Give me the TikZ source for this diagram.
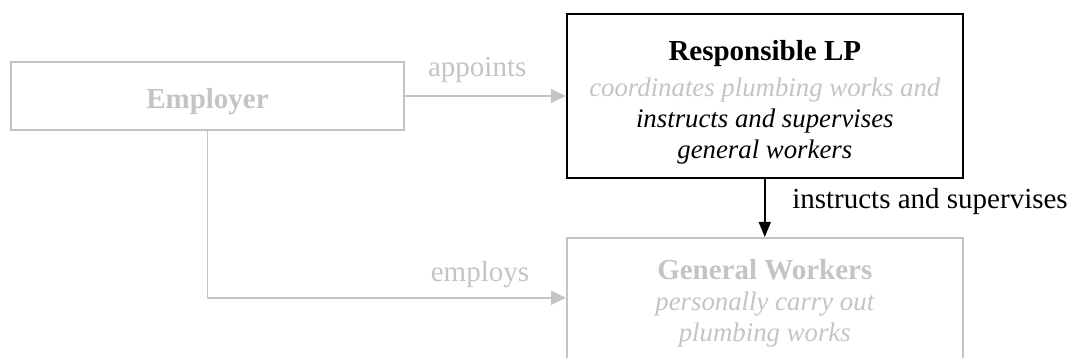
\documentclass[tikz,border=0pt]{standalone}
\usepackage{fontspec}
\setmainfont{Liberation Serif}
\usetikzlibrary{arrows.meta, positioning}
\definecolor{faded}{RGB}{196,196,196}
\newcommand\remark[1]{{\fontsize{13.4}{15.5}\selectfont\itshape #1}}

\begin{document}
\begin{tikzpicture}[
        x=0.5pt, y=0.5pt,
        font=\fontsize{14.5}{15.5}\selectfont,
        party/.style={
            rectangle, draw=faded, line width=0.8pt, text=faded,
            align=center, inner sep=0pt
        },
        focus/.style={
            rectangle, draw=black, line width=1pt,
            align=center, inner sep=0pt
        },
        link/.style={-{Triangle[length=7.5pt, width=7pt]}, line width=0.8pt, draw=faded, text=faded},
        duty/.style={-{Triangle[length=7.5pt, width=6pt]}, line width=0.8pt}
    ]
        \useasboundingbox (0,0) rectangle (1074,358);

        % Employer
        \node[party, minimum width=196.5pt, minimum height=34pt] (emp) at (207.5,262) {\rule{0pt}{15.5pt}\textbf{Employer}};

        % Responsible LP
        \node[focus, minimum width=198pt, minimum height=82pt, right=80.5pt of emp] (lp) {%
            \rule{0pt}{16pt}\textbf{Responsible LP}\\[2.5pt]
            \textcolor{faded}{\remark{coordinates plumbing works and}}\\
            \remark{instructs and supervises}\\
            \remark{general workers}};

        % General workers
        \node[party, minimum width=198pt, minimum height=65pt, below=29pt of lp] (gw) {%
            \textbf{General Workers}\\
            \remark{personally carry out}\\
            \remark{plumbing works}};

        % Relations
        \draw[link] (emp) -- (lp) node[pos=0.45, above=3pt] {appoints};
        \draw[link] (emp) |- ([yshift=2.5pt]gw.west) node[pos=0.88, above=1.5pt] {employs};
        \draw[duty] (lp) -- (gw) node[pos=0.39, right=10pt] {instructs and supervises};

    \end{tikzpicture}
\end{document}
